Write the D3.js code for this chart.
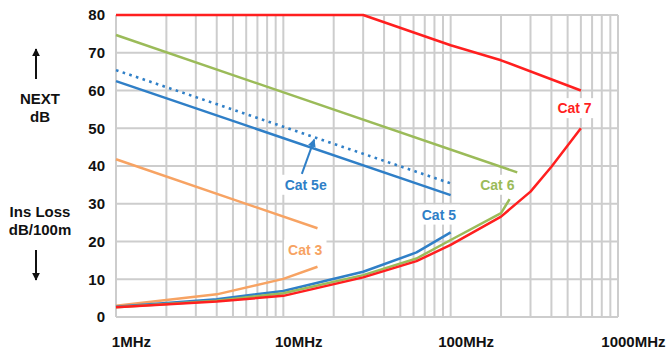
<!DOCTYPE html>
<html>
<head>
<meta charset="utf-8">
<script src="https://cdn.jsdelivr.net/npm/d3@7"></script>
<style>
  html, body { margin: 0; padding: 0; background: #fff; }
  svg { display: block; font-family: Arial, "Liberation Sans", sans-serif; }
</style>
</head>
<body>
<svg id="chart" width="667" height="350"></svg>
<script>
// ---------- data ----------
const xTickValues = [1, 10, 100, 1000];
const xTickNumbers = ["1", "10", "100", "1000"];
const xTickUnit = "MHz";
const yTickValues = [0, 10, 20, 30, 40, 50, 60, 70, 80];

// NEXT (dB) — [frequency MHz, value]
const cat3Next  = [[1, 41.8], [16, 23.5]];
const cat5Next  = [[1, 62.5], [100, 32.3]];
const cat5eNext = [[1, 65.4], [100, 35.4]];
const cat6Next  = [[1, 74.7], [250, 38.3]];
const cat7Next  = [[1, 80], [30, 80], [100, 72], [200, 68], [600, 60]];

// Insertion loss (dB/100m)
const cat3IL = [[1, 3.0], [4, 6.0], [10, 10.1], [16, 13.3]];
const cat5IL = [[1, 2.7], [4, 4.7], [10, 6.9], [30, 12.0], [62.5, 17.1], [100, 22.4]];
const cat6IL = [[1, 2.6], [4, 4.3], [10, 6.3], [30, 11.1], [62.5, 15.5], [100, 20.4], [200, 27.5], [225, 31.2]];
const cat7IL = [[1, 2.6], [4, 4.1], [10, 5.6], [30, 10.5], [62.5, 14.8], [100, 19.1], [200, 26.6], [300, 33.2], [400, 39.8], [600, 50.0]];

const colors = { cat3: "#f7a363", cat5: "#2f7fc7", cat6: "#9bbb59", cat7: "#ff1f1f" };
const gridColor = "#cdcdcd";

// ---------- scales ----------
const svg = d3.select("#chart");
const x = d3.scaleLog().domain([1, 1000]).range([116, 618]);
const y = d3.scaleLinear().domain([0, 80]).range([317, 15]);

// ---------- grid ----------
const minor = [];
for (let dec = 1; dec < 1000; dec *= 10) for (let m = 1; m < 10; m++) minor.push(dec * m);
minor.push(1000);

const grid = svg.append("g");
grid.selectAll("line.v").data(minor).join("line")
  .attr("x1", d => x(d)).attr("x2", d => x(d))
  .attr("y1", y(80)).attr("y2", y(0))
  .attr("stroke", gridColor).attr("stroke-width", 2);
grid.selectAll("line.h").data(yTickValues).join("line")
  .attr("x1", x(1)).attr("x2", x(1000))
  .attr("y1", d => y(d)).attr("y2", d => y(d))
  .attr("stroke", gridColor).attr("stroke-width", 2);

// ---------- axis labels ----------
const yAxis = d3.axisLeft(y).tickValues(yTickValues).tickSize(0).tickPadding(11);
const yg = svg.append("g").attr("transform", `translate(${x(1)},0)`).call(yAxis);
yg.select(".domain").remove();
yg.selectAll("text").attr("font-size", 15).attr("font-weight", "bold").attr("fill", "#111")
  .attr("font-family", "Arial, 'Liberation Sans', sans-serif");

const xg = svg.append("g");
xTickValues.forEach((v, i) => {
  const t = xg.append("text").attr("y", 347).attr("font-size", 15).attr("font-weight", "bold").attr("fill", "#111");
  const num = t.append("tspan").text(xTickNumbers[i]);
  t.append("tspan").text(xTickUnit);
  const w = num.node().getComputedTextLength();
  t.attr("x", x(v) - w / 2);
});

// ---------- lines ----------
const line = d3.line().x(d => x(d[0])).y(d => y(d[1]));
const series = [
  { d: cat3Next, c: colors.cat3 }, { d: cat3IL, c: colors.cat3 },
  { d: cat5Next, c: colors.cat5 }, { d: cat5IL, c: colors.cat5 },
  { d: cat6Next, c: colors.cat6 }, { d: cat6IL, c: colors.cat6 },
  { d: cat7IL, c: colors.cat7 }, { d: cat7Next, c: colors.cat7 }
];
svg.append("g").selectAll("path").data(series).join("path")
  .attr("d", s => line(s.d)).attr("fill", "none")
  .attr("stroke", s => s.c).attr("stroke-width", 2.5).attr("stroke-linejoin", "round");

svg.append("path").attr("d", line(cat5eNext)).attr("fill", "none")
  .attr("stroke", colors.cat5).attr("stroke-width", 2.6)
  .attr("stroke-dasharray", "2.6 4.4");

// ---------- series labels ----------
const labels = [
  { t: "Cat 3",  f: 13.5, v: 16.5, c: colors.cat3 },
  { t: "Cat 5e", f: 13.6, v: 33.7, c: colors.cat5 },
  { t: "Cat 5",  f: 85,   v: 25.8, c: colors.cat5 },
  { t: "Cat 6",  f: 190,  v: 33.7, c: colors.cat6 },
  { t: "Cat 7",  f: 550,  v: 54.0, c: colors.cat7 }
];
const lg = svg.append("g");
labels.forEach(l => {
  const g = lg.append("g");
  const txt = g.append("text").attr("x", x(l.f)).attr("y", y(l.v))
    .attr("text-anchor", "middle").attr("font-size", 14).attr("font-weight", "bold")
    .attr("fill", l.c).text(l.t);
  const bb = txt.node().getBBox();
  g.insert("rect", "text").attr("x", bb.x - 4).attr("y", bb.y - 2)
    .attr("width", bb.width + 8).attr("height", bb.height + 4).attr("fill", "#fff");
});

// arrow from Cat 5e label to dotted line
const defs = svg.append("defs");
defs.append("marker").attr("id", "ah").attr("viewBox", "0 0 10 10").attr("refX", 9).attr("refY", 5)
  .attr("markerWidth", 4).attr("markerHeight", 4).attr("orient", "auto")
  .append("path").attr("d", "M0,0 L10,5 L0,10 z").attr("fill", colors.cat5);
svg.append("line").attr("x1", x(12.9)).attr("y1", y(37.9)).attr("x2", x(15.3)).attr("y2", y(47.0))
  .attr("stroke", colors.cat5).attr("stroke-width", 2).attr("marker-end", "url(#ah)");

// ---------- left annotations ----------
defs.append("marker").attr("id", "ak").attr("viewBox", "0 0 10 10").attr("refX", 9).attr("refY", 5)
  .attr("markerWidth", 4).attr("markerHeight", 4).attr("orient", "auto")
  .append("path").attr("d", "M0,0 L10,5 L0,10 z").attr("fill", "#111");
svg.append("line").attr("x1", 36).attr("y1", 79).attr("x2", 36).attr("y2", 49)
  .attr("stroke", "#111").attr("stroke-width", 2).attr("marker-end", "url(#ak)");
svg.append("line").attr("x1", 36).attr("y1", 250).attr("x2", 36).attr("y2", 280)
  .attr("stroke", "#111").attr("stroke-width", 2).attr("marker-end", "url(#ak)");

const ann = [
  { t: "NEXT", y: 104 }, { t: "dB", y: 122 },
  { t: "Ins Loss", y: 217 }, { t: "dB/100m", y: 235 }
];
svg.append("g").selectAll("text").data(ann).join("text")
  .attr("x", 40).attr("y", d => d.y).attr("text-anchor", "middle")
  .attr("font-size", 15).attr("font-weight", "bold").attr("fill", "#111")
  .text(d => d.t);
</script>
</body>
</html>
